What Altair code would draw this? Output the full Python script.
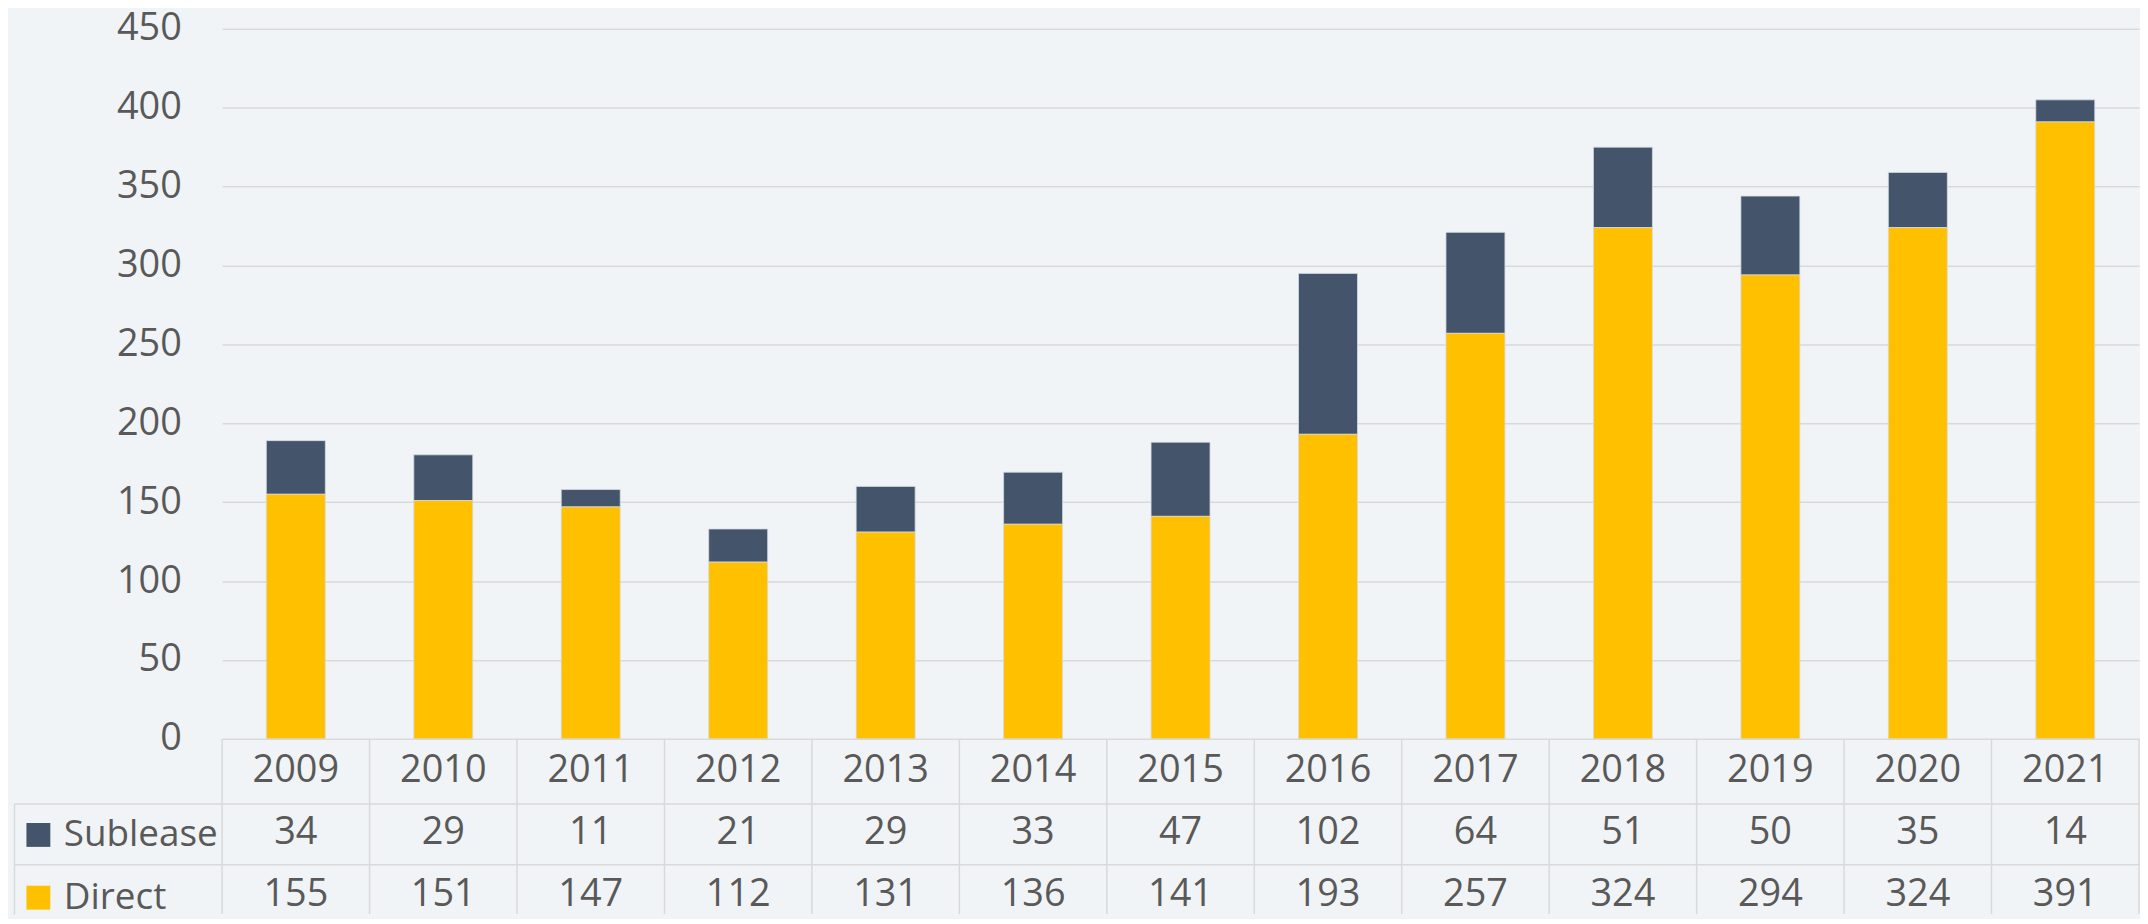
import altair as alt
import pandas as pd

# ---- data ----
years = ["2009", "2010", "2011", "2012", "2013", "2014", "2015",
         "2016", "2017", "2018", "2019", "2020", "2021"]
sublease = [34, 29, 11, 21, 29, 33, 47, 102, 64, 51, 50, 35, 14]
direct = [155, 151, 147, 112, 131, 136, 141, 193, 257, 324, 294, 324, 391]
series_names = ["Sublease", "Direct"]
series_colors = ["#44546A", "#FFC000"]
y_ticks = [0, 50, 100, 150, 200, 250, 300, 350, 400, 450]

# ---- style / layout ----
FONT = "Open Sans"
TEXT = "#595959"
GRID = "#D9D9D9"
BG = "#F1F4F6"
FS = 38

PLOT_W = 1925
BAR_PX = 713          # pixel height of the 0..450 value range
TABLE_PX = 176        # visible part of the data table below zero
LABEL_COL = 209       # width of the table's label column
u = 450 / BAR_PX
y_min = -TABLE_PX * u
row_lines = [-65 * u, -126 * u]
c_year, c_sub, c_dir = -32 * u, -95 * u, -157 * u

rows = []
for i, yr in enumerate(years):
    rows.append({"year": yr, "series": "Sublease", "value": sublease[i], "ord": 1})
    rows.append({"year": yr, "series": "Direct", "value": direct[i], "ord": 0})
df = pd.DataFrame(rows)
df_years = pd.DataFrame({"year": years})

x_main = alt.X("year:N", sort=years,
               scale=alt.Scale(paddingInner=0, paddingOuter=0), axis=None)
y_scale = alt.Scale(domain=[y_min, 450], nice=False, zero=False)

y_axis = alt.Axis(
    values=y_ticks + row_lines,
    labelExpr="datum.value >= 0 ? datum.label : ''",
    title=None,
    grid=True, gridColor=GRID, gridWidth=1.5,
    domain=False,
    ticks=True, tickSize=LABEL_COL, tickWidth=1.5,
    tickColor={"condition": {"test": "datum.value < 0", "value": GRID},
               "value": "transparent"},
    labelPadding={"expr": "-168"},
    labelFont=FONT, labelFontSize=FS, labelColor=TEXT,
)

bars = alt.Chart(df).mark_bar(
    width={"band": 0.4}, stroke="#D5DBE3", strokeWidth=1, strokeOpacity=0.8
).encode(
    x=x_main,
    y=alt.Y("value:Q", stack="zero", scale=y_scale, axis=y_axis),
    color=alt.Color(
        "series:N",
        scale=alt.Scale(domain=series_names, range=series_colors),
        legend=alt.Legend(
            orient="none", legendX=-203, legendY=791, offset=0, title=None,
            symbolType="square", symbolSize=576, symbolStrokeWidth=0,
            labelFont=FONT, labelFontSize=37, labelColor=TEXT,
            labelOffset=7, rowPadding=25, padding=0, direction="vertical",
        ),
    ),
    order=alt.Order("ord:Q"),
)

x_plain = alt.X("year:N", sort=years)

vrules = alt.Chart(df_years).mark_rule(color=GRID, strokeWidth=1.5).encode(
    x=alt.X("year:N", sort=years, bandPosition=0),
    y=alt.datum(0), y2=alt.datum(y_min),
)
vrule_end = alt.Chart(df_years).transform_filter(
    alt.datum.year == years[-1]
).mark_rule(color=GRID, strokeWidth=1.5).encode(
    x=alt.X("year:N", sort=years, bandPosition=1),
    y=alt.datum(0), y2=alt.datum(y_min),
)

txt = dict(font=FONT, fontSize=FS, color=TEXT, align="center", baseline="middle")

t_year = alt.Chart(df_years).mark_text(**txt).encode(
    x=x_plain, y=alt.datum(c_year), text="year:N")
t_sub = alt.Chart(df).transform_filter(alt.datum.series == "Sublease").mark_text(**txt).encode(
    x=x_plain, y=alt.datum(c_sub), text="value:Q")
t_dir = alt.Chart(df).transform_filter(alt.datum.series == "Direct").mark_text(**txt).encode(
    x=x_plain, y=alt.datum(c_dir), text="value:Q")

main = alt.layer(bars, vrules, vrule_end, t_year, t_sub, t_dir)

# left frame line of the legend cells, drawn as a second (outer) axis domain
frame = alt.Chart(pd.DataFrame({"v": [0, 1]})).mark_point(opacity=0).encode(
    y=alt.Y("v:Q", scale=alt.Scale(domain=[0, 1],
                                   range=[BAR_PX + TABLE_PX, BAR_PX + 65]),
            axis=alt.Axis(orient="left", domain=True, domainColor=GRID,
                          domainWidth=1.5, labels=False, ticks=False,
                          grid=False, title=None, offset=LABEL_COL)),
)

chart = alt.layer(main, frame).resolve_scale(y="independent").properties(
    width=PLOT_W, height=BAR_PX + TABLE_PX,
    padding={"left": 5, "top": 0, "right": 0, "bottom": 0},
    background=BG,
).configure_view(stroke=None)

chart.save("out.html", embed_options={"renderer": "svg", "actions": False})
